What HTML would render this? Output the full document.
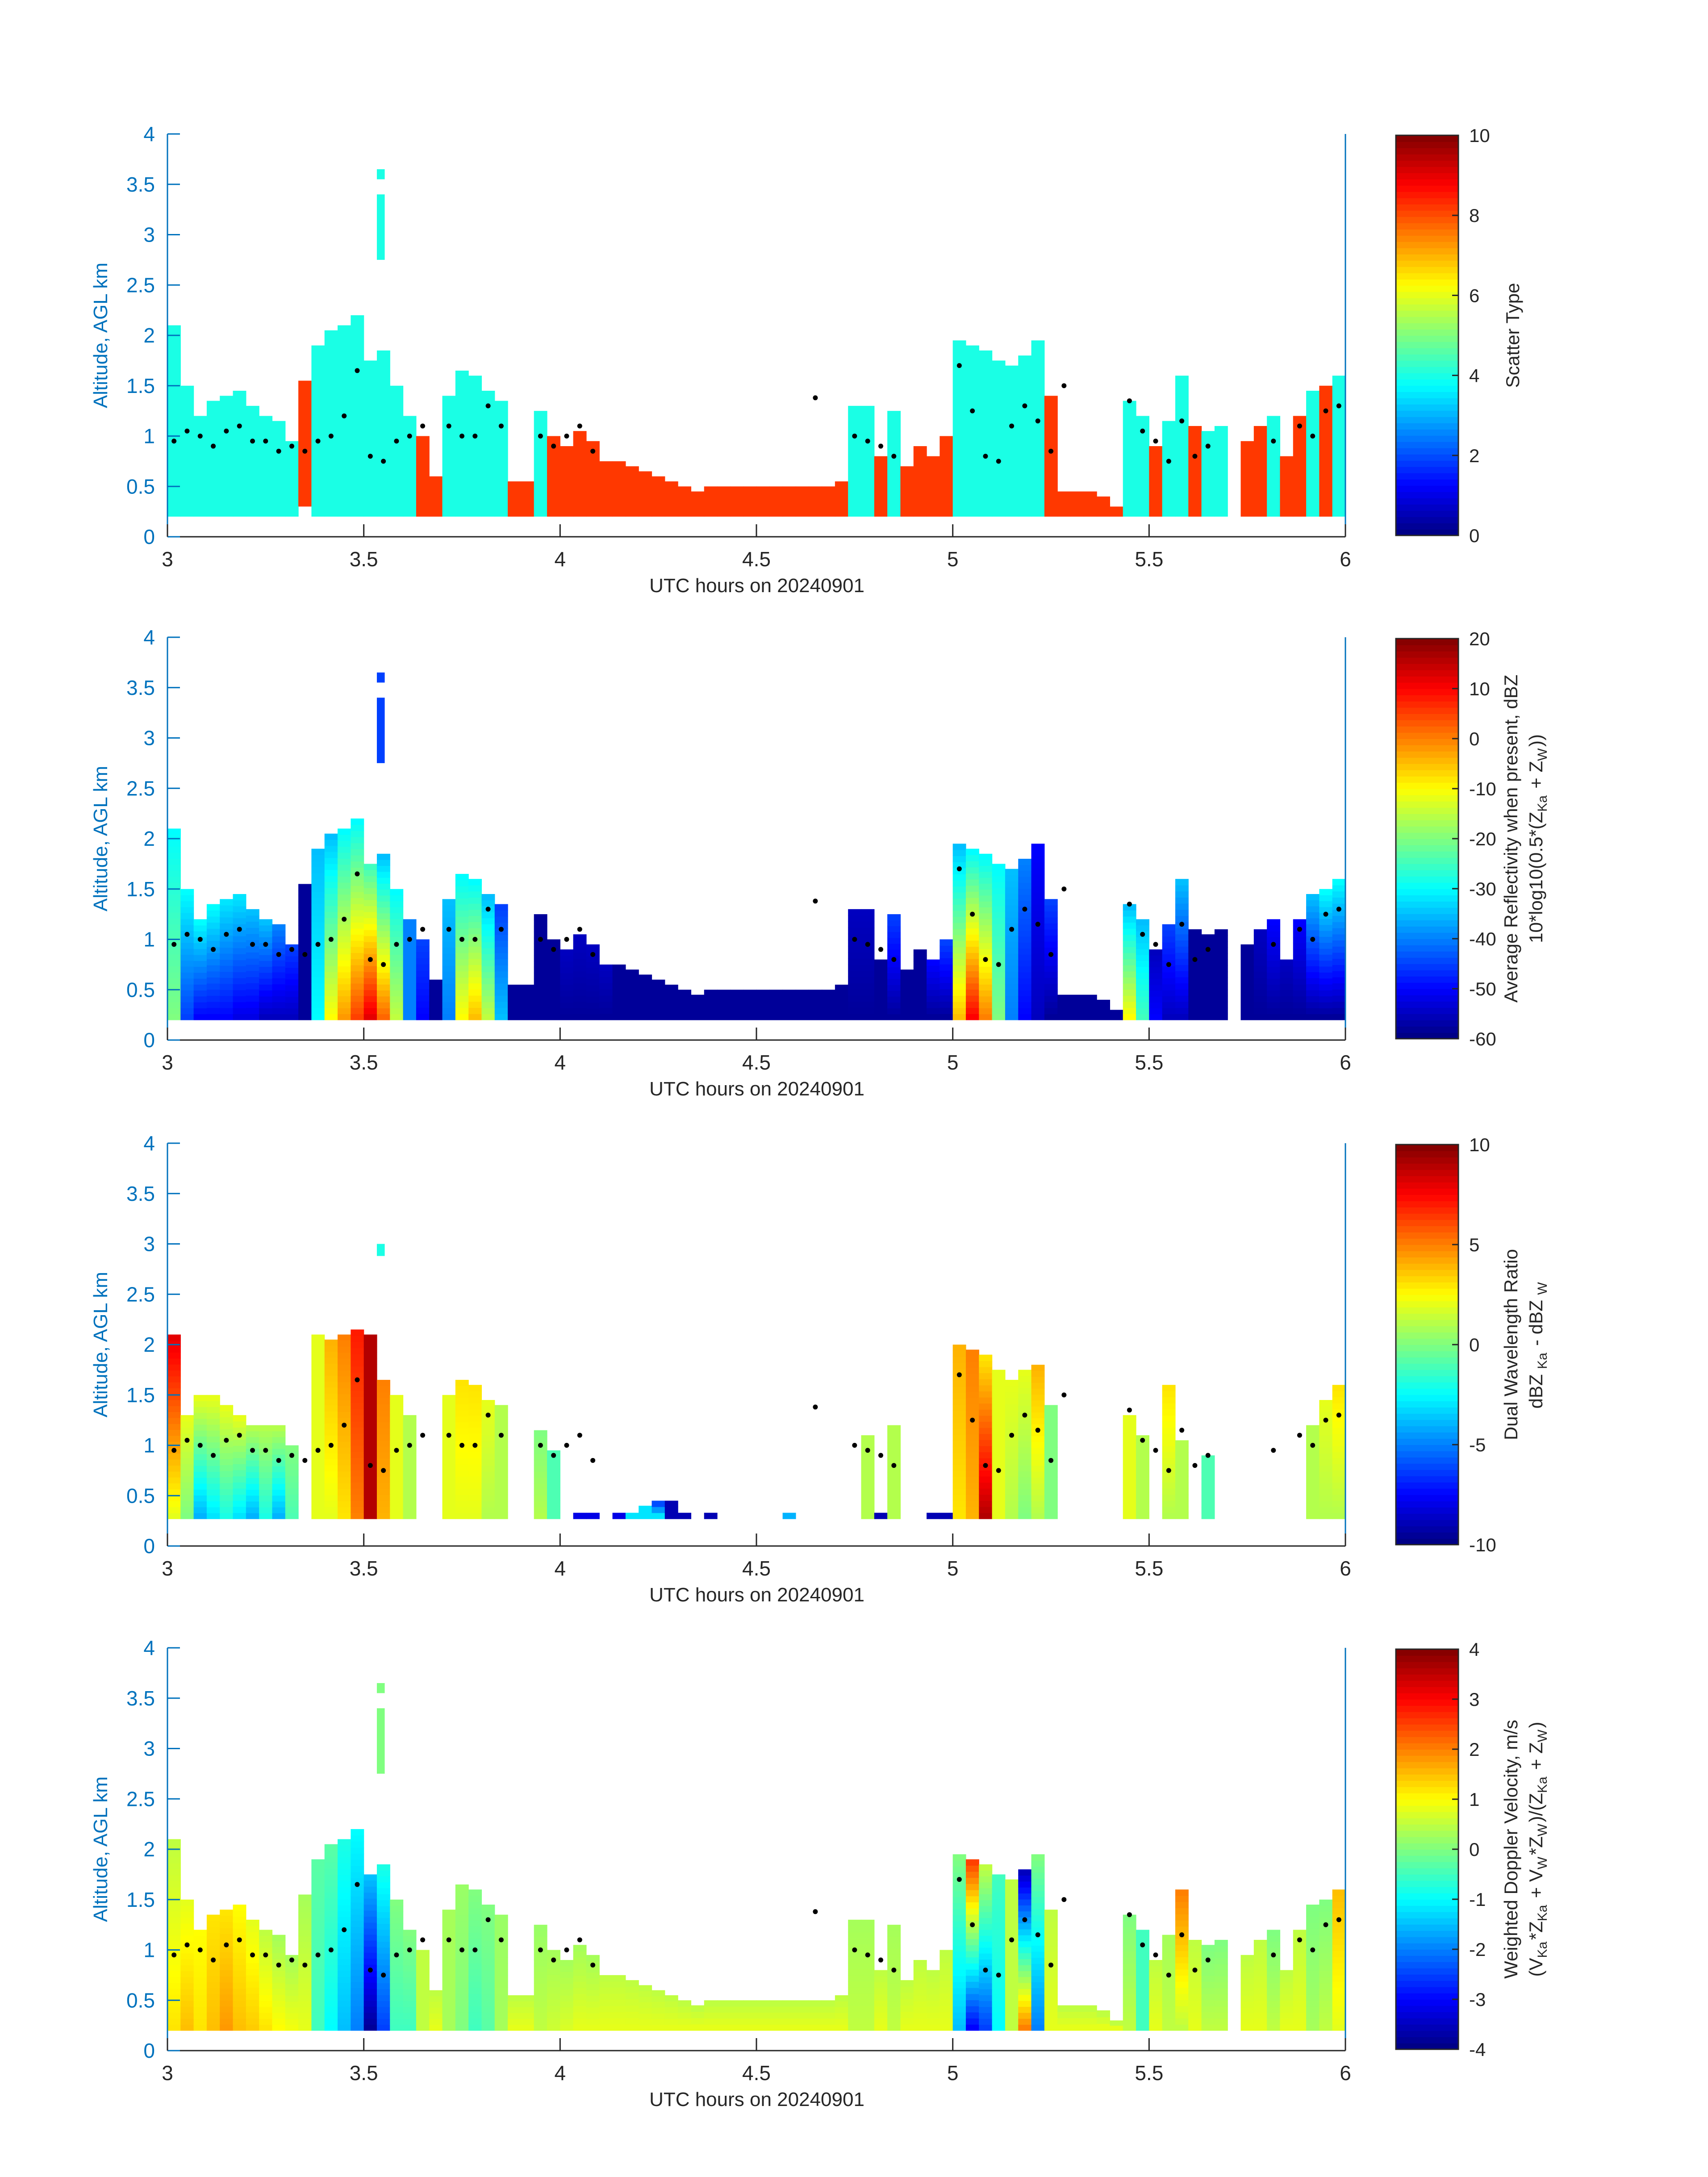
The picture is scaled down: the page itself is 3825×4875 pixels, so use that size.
<!DOCTYPE html>
<html><head><meta charset="utf-8"><style>
html,body{margin:0;padding:0;background:#fff;}
svg{display:block;}
text{font-family:"Liberation Sans","DejaVu Sans",sans-serif;}
</style></head><body>
<svg id="fig" width="3825" height="4875" viewBox="0 0 3825 4875" xmlns="http://www.w3.org/2000/svg"></svg>
<script>
// ---- data (2-minute columns from 3.0 to 6.0 UTC hours) ----
const tStart = 3, tEnd = 6, nCols = 90;
const xTicks = [3, 3.5, 4, 4.5, 5, 5.5, 6];
const yTicks = [0, 0.5, 1, 1.5, 2, 2.5, 3, 3.5, 4];
const tops = [2.1,1.5,1.2,1.35,1.4,1.45,1.3,1.2,1.15,0.95,
 1.55,1.9,2.05,2.1,2.2,1.75,1.85,1.5,1.2,1.0,
 0.6,1.4,1.65,1.6,1.45,1.35,0.55,0.55,1.25,1.0,
 0.9,1.05,0.95,0.75,0.75,0.7,0.65,0.6,0.55,0.5,
 0.45,0.5,0.5,0.5,0.5,0.5,0.5,0.5,0.5,0.5,
 0.5,0.55,1.3,1.3,0.8,1.25,0.7,0.9,0.8,1.0,
 1.95,1.9,1.85,1.75,1.7,1.8,1.95,1.4,0.45,0.45,
 0.45,0.4,0.3,1.35,1.2,0.9,1.15,1.6,1.1,1.05,
 1.1,null,0.95,1.1,1.2,0.8,1.2,1.45,1.5,1.6];
const scatterClass = [4,4,4,4,4,4,4,4,4,4,
 8.2,4,4,4,4,4,4,4,4,8.2,
 8.2,4,4,4,4,4,8.2,8.2,4,8.2,
 8.2,8.2,8.2,8.2,8.2,8.2,8.2,8.2,8.2,8.2,
 8.2,8.2,8.2,8.2,8.2,8.2,8.2,8.2,8.2,8.2,
 8.2,8.2,4,4,8.2,4,8.2,8.2,8.2,8.2,
 4,4,4,4,4,4,4,8.2,8.2,8.2,
 8.2,8.2,8.2,4,4,8.2,4,4,8.2,4,
 4,null,8.2,8.2,4,8.2,8.2,4,8.2,4];
const reflLow = [-20,-45,-50,-50,-50,-52,-52,-55,-55,-55,
 -58,-30,-10,-2,5,12,2,-15,-40,-50,
 -58,-40,-10,-5,-15,-35,-58,-58,-58,-58,
 -58,-58,-58,-58,-58,-58,-58,-58,-58,-58,
 -58,-58,-58,-58,-58,-58,-58,-58,-58,-58,
 -58,-58,-58,-58,-58,-58,-58,-58,-58,-58,
 -5,10,0,-20,-40,-50,-55,-58,-58,-58,
 -58,-58,-58,-10,-25,-50,-55,-55,-58,-58,
 -58,-58,-58,-58,-58,-58,-58,-58,-58,-58];
const reflHigh = [-30,-30,-30,-30,-32,-32,-35,-35,-40,-45,
 -58,-35,-35,-30,-30,-25,-35,-30,-40,-45,
 -58,-35,-30,-30,-35,-45,-58,-58,-58,-58,
 -55,-55,-55,-55,-58,-58,-58,-58,-58,-58,
 -58,-58,-58,-58,-58,-58,-58,-58,-58,-58,
 -58,-58,-55,-55,-58,-45,-58,-58,-50,-45,
 -35,-30,-30,-30,-35,-40,-50,-45,-58,-58,
 -58,-58,-58,-35,-35,-55,-45,-35,-58,-58,
 -58,-58,-58,-55,-50,-55,-50,-35,-30,-30];
const dwrTops = [2.1,1.3,1.5,1.5,1.4,1.3,1.2,1.2,1.2,1.0,
 null,2.1,2.05,2.1,2.15,2.1,1.65,1.5,1.3,null,
 null,1.5,1.65,1.6,1.45,1.4,null,null,1.15,0.95,
 null,0.33,0.33,null,0.33,0.33,0.4,0.45,0.45,0.33,
 null,0.33,null,null,null,null,null,0.33,null,null,
 null,null,null,1.1,0.33,1.2,null,null,0.33,0.33,
 2.0,1.95,1.9,1.75,1.65,1.75,1.8,1.4,null,null,
 null,null,null,1.3,1.1,null,1.6,1.05,null,0.9,
 null,null,null,null,null,null,null,1.2,1.45,1.6];
const dwrLow = [2,0,-4,-3,-2,-3,-4,-2,-4,-1,
 0,2,2,3,5,9,4,2,1,0,
 0,2,2,2,1,1,0,0,1,-1,
 0,-8,-8,0,-8,-3,-3,-3,-9,-9,
 0,-9,0,0,0,0,0,-4,0,0,
 0,0,0,1,-9,1,0,0,-9,-9,
 3,4,9,2,1,0,1,0,0,0,
 0,0,0,2,1,0,1,1,0,-1,
 0,0,0,0,0,0,0,1,1,1];
const dwrHigh = [8,2,2,2,2,2,1,1,1,0,
 0,2,4,5,7,9,5,2,1,0,
 0,2,3,3,2,1,0,0,0,-1,
 0,-8,-8,0,-8,-3,-3,-6,-9,-9,
 0,-9,0,0,0,0,0,-4,0,0,
 0,0,0,1,-9,1,0,0,-9,-9,
 4,5,3,2,2,2,4,0,0,0,
 0,0,0,2,1,0,3,1,0,-1,
 0,0,0,0,0,0,0,1,2,3];
const dopLow = [1.2,1.5,1.2,1.5,1.8,1.5,1.4,1.2,1.0,0.9,
 0.8,-0.5,-1.0,-1.5,-2.0,-3.8,-2.5,-0.5,-0.5,0.5,
 0.8,0.3,0.0,-0.5,-0.3,0.3,0.8,0.8,0.5,0.6,
 0.7,0.8,0.8,0.8,0.8,0.8,0.8,0.8,0.8,0.8,
 0.8,0.8,0.8,0.8,0.8,0.8,0.8,0.8,0.8,0.8,
 0.8,0.8,0.5,0.5,0.8,0.5,0.8,0.8,0.8,0.8,
 -1.5,-3.0,-2.5,-1.0,0.5,2.0,-2.0,0.8,0.8,0.8,
 0.8,0.8,0.8,0.5,-0.5,0.8,0.5,0.5,0.8,0.5,
 0.5,0.8,0.8,0.8,0.5,0.8,0.8,0.3,0.5,0.8];
const dopHigh = [0.5,0.8,1.0,1.2,1.2,1.0,0.8,0.5,0.3,0.3,
 0.3,-0.3,-0.3,-0.8,-1.0,-1.5,-0.8,0.0,0.0,0.5,
 0.5,0.3,0.2,0.0,0.0,0.2,0.5,0.5,0.2,0.3,
 0.3,0.3,0.3,0.5,0.5,0.5,0.5,0.5,0.5,0.5,
 0.5,0.5,0.5,0.5,0.5,0.5,0.5,0.5,0.5,0.5,
 0.5,0.5,0.3,0.3,0.5,0.3,0.5,0.5,0.5,0.5,
 0.0,2.5,0.5,-0.5,0.5,-3.5,0.0,0.5,0.5,0.5,
 0.5,0.5,0.5,0.0,-0.5,0.5,0.3,2.0,0.5,0.0,
 0.0,0.5,0.5,0.5,0.0,0.5,0.5,0.0,0.0,1.5];
const dotAlt = [0.95,1.05,1.0,0.9,1.05,1.1,0.95,0.95,0.85,0.9,
 0.85,0.95,1.0,1.2,1.65,0.8,0.75,0.95,1.0,1.1,
 null,1.1,1.0,1.0,1.3,1.1,null,null,1.0,0.9,
 1.0,1.1,0.85,null,null,null,null,null,null,null,
 null,null,null,null,null,null,null,null,null,1.38,
 null,null,1.0,0.95,0.9,0.8,null,null,null,null,
 1.7,1.25,0.8,0.75,1.1,1.3,1.15,0.85,1.5,null,
 null,null,null,1.35,1.05,0.95,0.75,1.15,0.8,0.9,
 null,null,null,null,0.95,null,1.1,1.0,1.25,1.3];
const aloftCells = [[16,2.75,3.4],[16,3.55,3.65]];

// ---- helpers ----
const NS = 'http://www.w3.org/2000/svg';
const fig = document.getElementById('fig');
function el(tag, attrs, parent){ const e=document.createElementNS(NS,tag); for(const k in attrs) e.setAttribute(k,attrs[k]); (parent||fig).appendChild(e); return e; }
function jet(f){ f=Math.max(0,Math.min(1,f));
  const r=Math.max(0,Math.min(1,Math.min(4*f-1.5,-4*f+4.5)));
  const g=Math.max(0,Math.min(1,Math.min(4*f-0.5,-4*f+3.5)));
  const b=Math.max(0,Math.min(1,Math.min(4*f+0.5,-4*f+2.5)));
  return 'rgb('+Math.round(r*255)+','+Math.round(g*255)+','+Math.round(b*255)+')'; }
const L=375, R=3013, H=902, BLUE='#0072BD', DARK='#262626';
const panels = [
 {top:300, name:'scatter-type', cmin:0, cmax:10, cticks:[0,2,4,6,8,10], title:['Scatter Type']},
 {top:1427, name:'reflectivity', cmin:-60, cmax:20, cticks:[-60,-50,-40,-30,-20,-10,0,10,20], title:['Average Reflectivity when present, dBZ','10*log10(0.5*(Z<Ka> + Z<W>))']},
 {top:2560, name:'dual-wavelength-ratio', cmin:-10, cmax:10, cticks:[-10,-5,0,5,10], title:['Dual Wavelength Ratio','dBZ <Ka> - dBZ <W>']},
 {top:3690, name:'doppler-velocity', cmin:-4, cmax:4, cticks:[-4,-3,-2,-1,0,1,2,3,4], title:['Weighted Doppler Velocity, m/s','(V<Ka>*Z<Ka> + V<W>*Z<W>)/(Z<Ka> + Z<W>)']}
];
function xs(t){ return L+(t-tStart)/(tEnd-tStart)*(R-L); }
function addTitleText(parent, str, x, y){
  const t=el('text',{x:x,y:y,'font-size':42,fill:DARK,'text-anchor':'middle',transform:'rotate(-90 '+x+' '+y+')'},parent);
  str.split(/(<[^>]+>)/).forEach(p=>{ if(!p) return;
    if(p[0]==='<'){ const s=el('tspan',{'font-size':30,dy:10},t); s.textContent=p.slice(1,-1); const b=el('tspan',{dy:-10},t); b.textContent='\u200A'; }
    else { const s=el('tspan',{},t); s.textContent=p; } });
  return t; }

panels.forEach((p,pi)=>{
  const B=p.top+H;
  const ys=a=>B-a/4*H;
  const g=el('g',{});
  
  
  const cw=(R-L)/nCols;
  const cells=el('g',{},g);
  
  
  const cf=v=>jet((v-p.cmin)/(p.cmax-p.cmin));
  for(let i=0;i<nCols;i++){
    const x=xs(tStart+i*(tEnd-tStart)/nCols);
    if(pi===0){
      if(tops[i]==null||scatterClass[i]==null) continue;
      const bot = i===10?0.3:0.2;
      const r=el('rect',{x:x,y:ys(tops[i]),width:cw+0.6,height:ys(bot)-ys(tops[i]),fill:cf(scatterClass[i])},cells);
      
      
    } else {
      const top = pi===2 ? dwrTops[i] : tops[i];
      if(top==null) continue;
      const bot = pi===2 ? 0.27 : 0.2;
      const lo = pi===1?reflLow[i]:pi===2?dwrLow[i]:dopLow[i];
      const hi = pi===1?reflHigh[i]:pi===2?dwrHigh[i]:dopHigh[i];
      const dz=0.06, n=Math.max(1,Math.round((top-bot)/dz));
      for(let k=0;k<n;k++){
        const a0=bot+k*(top-bot)/n, a1=bot+(k+1)*(top-bot)/n;
        const f=n>1?k/(n-1):0;
        const v=lo+(hi-lo)*f;
        const r=el('rect',{x:x,y:ys(a1),width:cw+0.6,height:ys(a0)-ys(a1)+0.6,fill:cf(v)},cells);
        
        
      }
    }
  }
  aloftCells.forEach(c=>{
    const x=xs(tStart+c[0]*(tEnd-tStart)/nCols);
    const v = pi===0?4:pi===1?-45:pi===2?-2:0;
    if(pi===2 && c[2]>3.5) return;
    const a0 = pi===2?2.88:c[1], a1 = pi===2?3.0:c[2];
    const r=el('rect',{x:x,y:ys(a1),width:cw*0.6,height:ys(a0)-ys(a1),fill:cf(v)},cells);
    
    
  });
  // dots
  const dg=el('g',{},g);
  
  
  dotAlt.forEach((a,i)=>{ if(a==null) return;
    const d=el('circle',{cx:xs(tStart+(i+0.5)*(tEnd-tStart)/nCols),cy:ys(a),r:5.5,fill:'#000'},dg);
    
    
  });
  // axes
  const ax=el('g',{},g);
  
  
  el('line',{x1:L,y1:B,x2:R,y2:B,stroke:DARK,'stroke-width':3},ax);
  el('line',{x1:L,y1:p.top,x2:L,y2:B,stroke:BLUE,'stroke-width':3},ax);
  el('line',{x1:R,y1:p.top,x2:R,y2:B,stroke:BLUE,'stroke-width':3},ax);
  yTicks.forEach(v=>{
    el('line',{x1:L,y1:ys(v),x2:L+28,y2:ys(v),stroke:BLUE,'stroke-width':3},ax);
    const t=el('text',{x:L-28,y:ys(v)+16,'font-size':46,fill:BLUE,'text-anchor':'end'},ax); t.textContent=String(v);
    
    
  });
  xTicks.forEach(v=>{
    el('line',{x1:xs(v),y1:B,x2:xs(v),y2:B-28,stroke:DARK,'stroke-width':3},ax);
    const t=el('text',{x:xs(v),y:B+66,'font-size':46,fill:DARK,'text-anchor':'middle'},ax); t.textContent=String(v);
    
    
  });
  const xl=el('text',{x:1695,y:B+124,'font-size':44,fill:DARK,'text-anchor':'middle'},ax); xl.textContent='UTC hours on 20240901';
  
  
  const yl=el('text',{x:240,y:p.top+H/2,'font-size':44,fill:BLUE,'text-anchor':'middle',transform:'rotate(-90 240 '+(p.top+H/2)+')'},ax); yl.textContent='Altitude, AGL km';
  
  
  // colorbar
  const cb=el('g',{},g);
  
  
  const cx0=3126, cx1=3266, cy0=p.top+3, cy1=B-3, nb=64;
  for(let k=0;k<nb;k++){
    const y0=cy1-(k+1)*(cy1-cy0)/nb;
    el('rect',{x:cx0,y:y0,width:cx1-cx0,height:(cy1-cy0)/nb+0.8,fill:jet((k+0.5)/nb)},cb);
  }
  el('rect',{x:cx0,y:cy0,width:cx1-cx0,height:cy1-cy0,fill:'none',stroke:DARK,'stroke-width':3},cb);
  p.cticks.forEach(v=>{
    const y=cy1-(v-p.cmin)/(p.cmax-p.cmin)*(cy1-cy0);
    el('line',{x1:cx1,y1:y,x2:cx1-14,y2:y,stroke:DARK,'stroke-width':3},cb);
    const t=el('text',{x:3290,y:y+15,'font-size':42,fill:DARK},cb); t.textContent=String(v);
    
    
  });
  const mid=(cy0+cy1)/2;
  if(p.title.length===1){
    const t=addTitleText(cb,p.title[0],3402,mid);
    
    
  } else {
    const t1=addTitleText(cb,p.title[0],3398,mid);
    
    
    const t2=addTitleText(cb,p.title[1],3454,mid);
    
    
  }
});
</script>
</body></html>
